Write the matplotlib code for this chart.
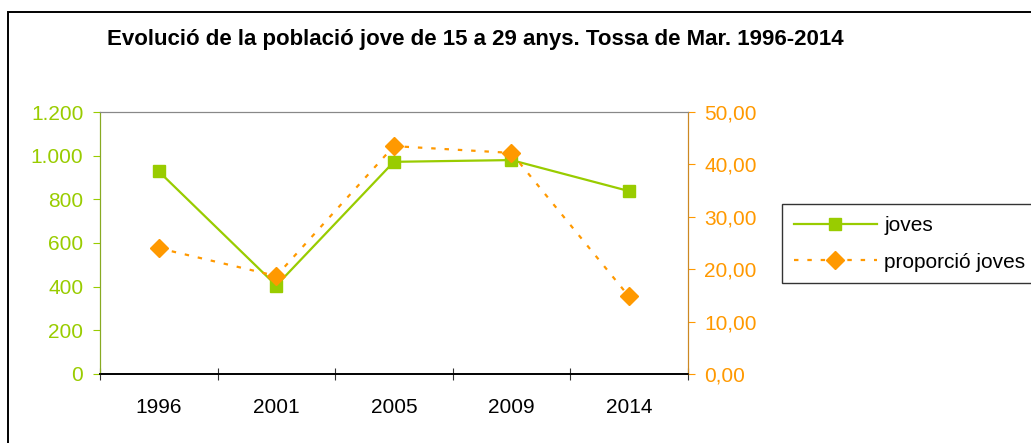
import matplotlib.pyplot as plt
from matplotlib.patches import Rectangle
from matplotlib.ticker import FuncFormatter

plt.rcParams['font.family'] = ['Liberation Sans', 'DejaVu Sans']

years = ['1996', '2001', '2005', '2009', '2014']
joves = [928, 405, 972, 980, 838]
proporcio = [24.0, 18.7, 43.5, 42.2, 14.8]

green = '#99CC00'
orange = '#FF9900'

fig = plt.figure(figsize=(10.31, 4.43), dpi=100)
ax = fig.add_axes([0.097, 0.156, 0.570, 0.591])
ax2 = ax.twinx()

x = [i + 0.5 for i in range(len(years))]
l1, = ax.plot(x, joves, color=green, lw=1.6, marker='s', markersize=9, label='joves')
l2, = ax2.plot(x, proporcio, color=orange, lw=1.6, ls=(0, (2, 4)), marker='D',
               markersize=9, label='proporció joves')

ax.set_xlim(0, len(years))
ax.set_ylim(0, 1200)
ax2.set_ylim(0, 50)
ax.set_yticks(range(0, 1201, 200))
ax2.set_yticks(range(0, 51, 10))
ax.yaxis.set_major_formatter(FuncFormatter(lambda v, p: f'{int(v):,}'.replace(',', '.')))
ax2.yaxis.set_major_formatter(FuncFormatter(lambda v, p: f'{v:.2f}'.replace('.', ',')))

# category boundaries as ticks, labels in the middle
ax.set_xticks(range(len(years) + 1))
ax.set_xticklabels([])
ax.set_xticks(x, minor=True)
ax.set_xticklabels(years, minor=True)
ax.tick_params(axis='x', which='major', direction='inout', length=9, color='#333333')
ax.tick_params(axis='x', which='minor', length=0, labelsize=15, pad=17)
ax.tick_params(axis='y', direction='out', length=5, pad=7, color=green, labelcolor=green, labelsize=15)
ax2.tick_params(axis='y', direction='out', length=5, pad=7, color=orange, labelcolor=orange, labelsize=15)

for a in (ax, ax2):
    a.spines['top'].set_color('#888888')
    a.spines['bottom'].set_color('black')
    a.spines['left'].set_color('#88AA22')
    a.spines['right'].set_color('#CC8822')
    a.spines['bottom'].set_linewidth(1.2)

fig.text(0.461, 0.91, 'Evolució de la població jove de 15 a 29 anys. Tossa de Mar. 1996-2014',
         ha='center', va='center', fontsize=16, fontweight='bold')

leg = fig.legend(handles=[l1, l2], loc='upper left', bbox_to_anchor=(0.7485, 0.562),
                 fontsize=15, frameon=True, fancybox=False, edgecolor='black',
                 handlelength=4.0, borderpad=0.55, labelspacing=0.85, handletextpad=0.35)
leg.get_frame().set_linewidth(1.0)

# outer chart border (runs past the right and bottom edges)
fig.patches.append(Rectangle((0.0075, -0.05), 1.1, 1.022, transform=fig.transFigure,
                             fill=False, edgecolor='black', lw=1.4))

fig.savefig('out.png', dpi=100)
